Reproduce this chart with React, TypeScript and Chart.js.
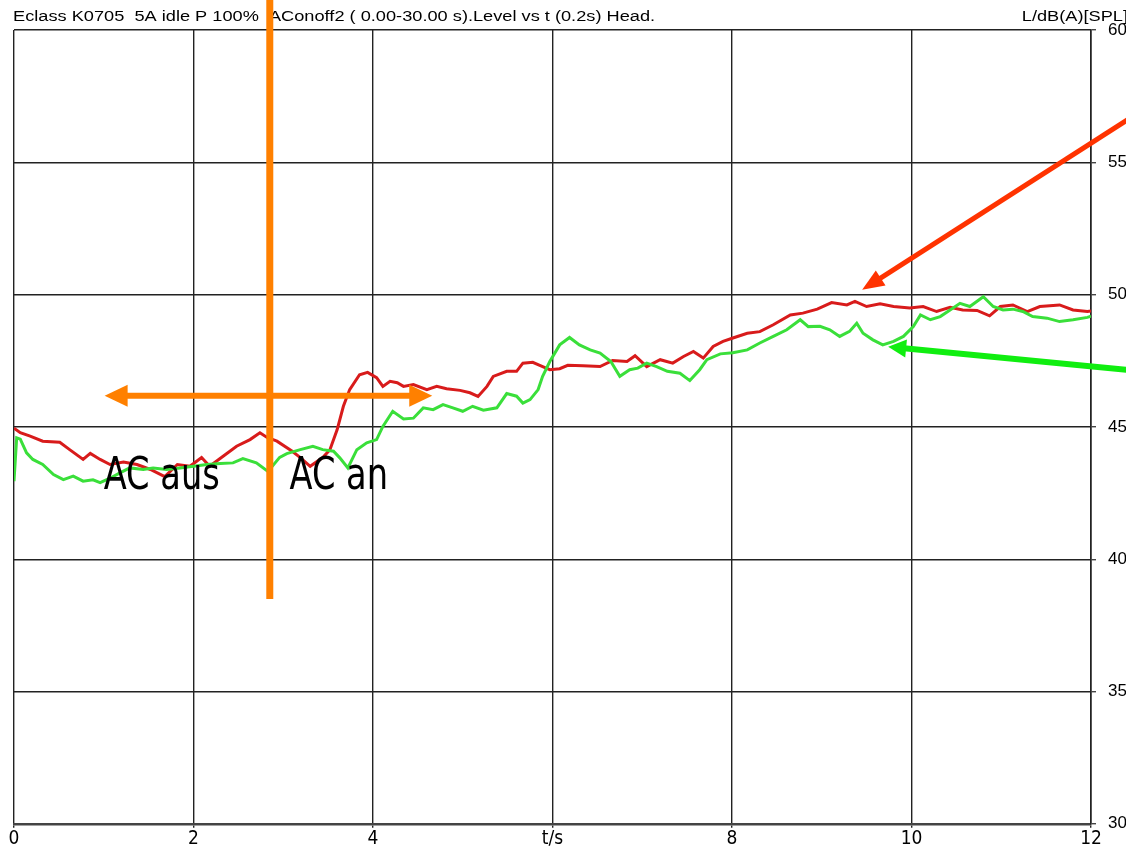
import React, { useEffect, useRef } from 'react';
import { Chart, registerables } from 'chart.js';

Chart.register(...registerables);

// ---- data ----
const redTimes = [0, 0.07, 0.18, 0.32, 0.51, 0.62, 0.77, 0.85, 0.96, 1.07, 1.22, 1.37, 1.52, 1.68, 1.82, 1.96, 2.09, 2.18, 2.33, 2.48, 2.63, 2.74, 2.82, 2.93, 3.1, 3.19, 3.3, 3.44, 3.52, 3.6, 3.67, 3.74, 3.85, 3.94, 4.04, 4.11, 4.19, 4.27, 4.34, 4.45, 4.6, 4.71, 4.82, 4.97, 5.08, 5.17, 5.27, 5.34, 5.49, 5.6, 5.67, 5.78, 5.89, 5.97, 6.08, 6.17, 6.34, 6.53, 6.67, 6.83, 6.92, 7.05, 7.2, 7.34, 7.46, 7.57, 7.68, 7.79, 7.9, 8.01, 8.17, 8.31, 8.46, 8.65, 8.79, 8.95, 9.11, 9.28, 9.37, 9.5, 9.65, 9.8, 9.98, 10.13, 10.28, 10.43, 10.57, 10.73, 10.87, 10.99, 11.13, 11.29, 11.43, 11.65, 11.8, 11.96, 12];
const redLevels = [44.95, 44.78, 44.65, 44.46, 44.42, 44.14, 43.77, 44.0, 43.77, 43.58, 43.67, 43.58, 43.39, 43.12, 43.58, 43.51, 43.84, 43.51, 43.89, 44.27, 44.52, 44.78, 44.6, 44.46, 44.08, 43.84, 43.51, 43.84, 44.14, 44.89, 45.78, 46.41, 46.97, 47.06, 46.86, 46.53, 46.72, 46.67, 46.53, 46.6, 46.41, 46.53, 46.44, 46.38, 46.29, 46.15, 46.53, 46.91, 47.1, 47.1, 47.41, 47.44, 47.28, 47.16, 47.2, 47.33, 47.31, 47.28, 47.51, 47.47, 47.69, 47.28, 47.54, 47.41, 47.66, 47.85, 47.6, 48.04, 48.23, 48.36, 48.54, 48.6, 48.86, 49.23, 49.3, 49.45, 49.7, 49.61, 49.74, 49.55, 49.65, 49.55, 49.49, 49.55, 49.36, 49.52, 49.42, 49.4, 49.2, 49.55, 49.61, 49.36, 49.55, 49.61, 49.42, 49.36, 49.38];

const greenTimes = [0, 0.03, 0.07, 0.14, 0.21, 0.32, 0.44, 0.55, 0.66, 0.77, 0.88, 0.96, 1.07, 1.18, 1.29, 1.44, 1.55, 1.7, 1.85, 2.0, 2.15, 2.3, 2.44, 2.55, 2.7, 2.83, 2.96, 3.04, 3.19, 3.33, 3.44, 3.56, 3.63, 3.72, 3.82, 3.93, 4.04, 4.11, 4.22, 4.34, 4.45, 4.56, 4.67, 4.78, 4.89, 5.0, 5.11, 5.23, 5.38, 5.49, 5.6, 5.67, 5.75, 5.84, 5.89, 5.97, 6.08, 6.19, 6.3, 6.42, 6.53, 6.65, 6.75, 6.86, 6.95, 7.05, 7.16, 7.28, 7.42, 7.53, 7.64, 7.72, 7.87, 8.01, 8.17, 8.31, 8.46, 8.61, 8.76, 8.85, 8.98, 9.09, 9.2, 9.31, 9.39, 9.46, 9.57, 9.68, 9.8, 9.91, 10.02, 10.1, 10.21, 10.32, 10.43, 10.54, 10.65, 10.8, 10.91, 11.02, 11.13, 11.24, 11.35, 11.51, 11.65, 11.8, 11.96, 12];
const greenLevels = [42.95, 44.59, 44.54, 44.02, 43.77, 43.58, 43.2, 43.01, 43.14, 42.95, 43.0, 42.89, 43.06, 43.26, 43.45, 43.39, 43.45, 43.39, 43.45, 43.51, 43.58, 43.62, 43.64, 43.8, 43.64, 43.32, 43.85, 43.99, 44.14, 44.27, 44.14, 44.08, 43.83, 43.45, 44.14, 44.4, 44.52, 45.02, 45.59, 45.3, 45.33, 45.72, 45.65, 45.84, 45.72, 45.59, 45.78, 45.63, 45.72, 46.26, 46.16, 45.9, 46.03, 46.41, 46.91, 47.47, 48.1, 48.38, 48.1, 47.91, 47.79, 47.47, 46.91, 47.16, 47.22, 47.41, 47.28, 47.1, 47.03, 46.75, 47.16, 47.54, 47.76, 47.8, 47.91, 48.17, 48.42, 48.67, 49.05, 48.79, 48.8, 48.67, 48.42, 48.61, 48.92, 48.54, 48.29, 48.1, 48.23, 48.42, 48.79, 49.23, 49.05, 49.17, 49.42, 49.67, 49.55, 49.92, 49.55, 49.42, 49.45, 49.36, 49.17, 49.11, 48.98, 49.05, 49.14, 49.18];

const xTickValues = [0, 2, 4, 6, 8, 10, 12];
const xTickLabels = ['0', '2', '4', 't/s', '8', '10', '12'];
const yTickValues = [30, 35, 40, 45, 50, 55, 60];

const titleText = 'Eclass K0705  5A idle P 100%  AConoff2 ( 0.00-30.00 s).Level vs t (0.2s) Head.';
const unitText = 'L/dB(A)[SPL]';

// annotations, in data coordinates (time s, level dB)
const markerLine = { t: 2.85, from: 38.5, to: 61.3 };
const rangeArrow = { from: 1.01, to: 4.66, level: 46.18 };
const annotationLabels = [
  { text: 'AC aus', t: 1.0, level: 42.64 },
  { text: 'AC an', t: 3.07, level: 42.64 },
];
const redPointer = { t1: 12.45, v1: 56.7, t2: 9.45, v2: 50.18 };
const greenPointer = { t1: 12.45, v1: 47.14, t2: 9.74, v2: 48.03 };

const toPoints = (ts: number[], vs: number[]) => ts.map((t, i) => ({ x: t, y: vs[i] }));

function arrowHead(ctx: CanvasRenderingContext2D, x1: number, y1: number, x2: number, y2: number, len: number, half: number, color: string) {
  const a = Math.atan2(y2 - y1, x2 - x1);
  const bx = x2 - Math.cos(a) * len;
  const by = y2 - Math.sin(a) * len;
  ctx.beginPath();
  ctx.moveTo(x2, y2);
  ctx.lineTo(bx + Math.sin(a) * half, by - Math.cos(a) * half);
  ctx.lineTo(bx - Math.sin(a) * half, by + Math.cos(a) * half);
  ctx.closePath();
  ctx.fillStyle = color;
  ctx.fill();
}

function arrow(ctx: CanvasRenderingContext2D, x1: number, y1: number, x2: number, y2: number, color: string, width: number, len: number, half: number, both = false) {
  const a = Math.atan2(y2 - y1, x2 - x1);
  const sx = both ? x1 + Math.cos(a) * (len - 2) : x1;
  const sy = both ? y1 + Math.sin(a) * (len - 2) : y1;
  const ex = x2 - Math.cos(a) * (len - 2);
  const ey = y2 - Math.sin(a) * (len - 2);
  ctx.beginPath();
  ctx.moveTo(sx, sy);
  ctx.lineTo(ex, ey);
  ctx.strokeStyle = color;
  ctx.lineWidth = width;
  ctx.lineCap = 'butt';
  ctx.stroke();
  arrowHead(ctx, x1, y1, x2, y2, len, half, color);
  if (both) arrowHead(ctx, x2, y2, x1, y1, len, half, color);
}

const annotationPlugin = {
  id: 'annotations',
  afterDraw(chart: any) {
    const ctx: CanvasRenderingContext2D = chart.ctx;
    const xs = chart.scales.x;
    const ys = chart.scales.y;
    const px = (t: number) => xs.getPixelForValue(t);
    const py = (v: number) => ys.getPixelForValue(v);
    ctx.save();

    // header texts
    ctx.fillStyle = '#000';
    ctx.font = '14px "Liberation Sans", Arial, sans-serif';
    ctx.textBaseline = 'alphabetic';
    ctx.save();
    ctx.translate(13, 21);
    ctx.scale(1.3, 1);
    ctx.textAlign = 'left';
    ctx.fillText(titleText, 0, 0);
    ctx.restore();
    ctx.save();
    ctx.translate(chart.width + 2, 21);
    ctx.scale(1.3, 1);
    ctx.textAlign = 'right';
    ctx.fillText(unitText, 0, 0);
    ctx.restore();

    // orange vertical marker
    ctx.beginPath();
    ctx.moveTo(px(markerLine.t), py(markerLine.to));
    ctx.lineTo(px(markerLine.t), py(markerLine.from));
    ctx.strokeStyle = '#FF8000';
    ctx.lineWidth = 7;
    ctx.stroke();

    // orange double arrow
    arrow(ctx, px(rangeArrow.from), py(rangeArrow.level), px(rangeArrow.to), py(rangeArrow.level), '#FF8000', 6, 23, 11, true);

    // labels
    ctx.fillStyle = '#000';
    ctx.textAlign = 'left';
    ctx.textBaseline = 'alphabetic';
    for (const l of annotationLabels) {
      ctx.save();
      ctx.translate(px(l.t), py(l.level));
      ctx.scale(0.85, 1);
      ctx.font = '44px "Liberation Sans Narrow", "DejaVu Sans Condensed", "Liberation Sans", sans-serif';
      ctx.fillText(l.text, 0, 0);
      ctx.restore();
    }

    // pointers
    arrow(ctx, px(redPointer.t1), py(redPointer.v1), px(redPointer.t2), py(redPointer.v2), '#FF3300', 5, 22, 9);
    arrow(ctx, px(greenPointer.t1), py(greenPointer.v1), px(greenPointer.t2), py(greenPointer.v2), '#10EE10', 6, 18, 9);

    ctx.restore();
  },
};

export default function App() {
  const canvasRef = useRef<HTMLCanvasElement | null>(null);

  useEffect(() => {
    if (!canvasRef.current) return;
    const chart = new Chart(canvasRef.current, {
      type: 'line',
      data: {
        datasets: [
          {
            label: 'AC an',
            data: toPoints(greenTimes, greenLevels),
            borderColor: '#3ADF3A',
            borderWidth: 3,
            pointRadius: 0,
            tension: 0,
            fill: false,
          },
          {
            label: 'AC aus',
            data: toPoints(redTimes, redLevels),
            borderColor: '#D81B1B',
            borderWidth: 3,
            pointRadius: 0,
            tension: 0,
            fill: false,
          },
        ],
      },
      options: {
        animation: false,
        responsive: true,
        maintainAspectRatio: false,
        layout: { padding: { top: 30, left: 14, right: 0, bottom: 0 } },
        plugins: {
          legend: { display: false },
          tooltip: { enabled: false },
          title: { display: false },
        },
        scales: {
          x: {
            type: 'linear',
            min: 0,
            max: 12,
            afterBuildTicks: (s: any) => {
              s.ticks = xTickValues.map((v) => ({ value: v }));
            },
            afterFit: (s: any) => {
              s.height = 22;
            },
            ticks: {
              autoSkip: false,
              maxRotation: 0,
              padding: 0,
              color: '#000',
              font: { family: '"Liberation Sans Narrow", "DejaVu Sans Condensed", sans-serif', size: 19 },
              callback: (v: any) => {
                const i = xTickValues.indexOf(Number(v));
                return i >= 0 ? xTickLabels[i] : '';
              },
            },
            grid: { color: '#222', lineWidth: 1.4, tickLength: 4, tickColor: '#222' },
            border: { color: '#444', width: 2.5 },
          },
          y: {
            type: 'linear',
            position: 'right',
            min: 30,
            max: 60,
            afterBuildTicks: (s: any) => {
              s.ticks = yTickValues.map((v) => ({ value: v }));
            },
            afterFit: (s: any) => {
              s.width = 35;
            },
            ticks: {
              padding: 12,
              color: '#000',
              font: { family: '"Liberation Sans", Arial, sans-serif', size: 17 },
            },
            grid: { color: '#222', lineWidth: 1.4, tickLength: 5, tickColor: '#444' },
            border: { color: '#222', width: 1.6 },
          },
        },
      },
      plugins: [annotationPlugin],
    });
    return () => chart.destroy();
  }, []);

  return (
    <div style={{ position: 'absolute', left: 0, top: 0, width: 1126, height: 846, background: '#fff' }}>
      <canvas ref={canvasRef} />
    </div>
  );
}
